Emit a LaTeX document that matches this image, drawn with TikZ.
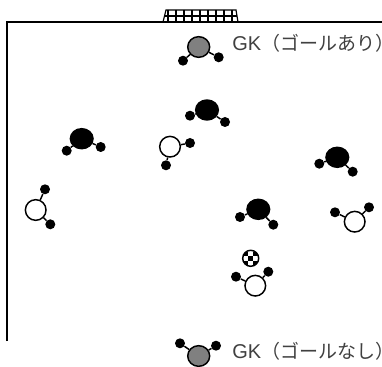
\documentclass[tikz,border=0pt]{standalone}
\usepackage{fontspec}
\setmainfont{Liberation Sans}
\newfontfamily\cjk[Scale=0.95]{Noto Sans CJK JP}
\usetikzlibrary{shapes.geometric}
\tikzset{
  player/.style={ellipse, draw=black, line width=1.1pt, inner sep=0pt, minimum width=15.5pt, minimum height=15.5pt},
  hand/.style={circle, fill=black, inner sep=0pt, minimum size=7.5pt},
  arm/.style={line width=1.1pt},
  label/.style={anchor=west, inner sep=0pt, font=\fontsize{15}{18}\selectfont, text=black!75}
}
\begin{document}
\begin{tikzpicture}[x=0.75pt,y=-0.75pt]
  \useasboundingbox (0,0) rectangle (382,367);
  % field
  \coordinate (fieldtl) at (7,22);
  \coordinate (fieldbl) at (7,341);
  \coordinate (fieldtr) at (382,22);
  \draw[line width=1pt] (fieldbl) -- (fieldtl) -- (fieldtr);
  % goal
  \begin{scope}
    \coordinate (goalbl) at (163,22);
    \coordinate (goaltl) at (166,10);
    \coordinate (goaltr) at (236,10);
    \coordinate (goalbr) at (238,22);
    \draw[line width=0.9pt] (goalbl) -- (goaltl) -- (goaltr) -- (goalbr);
    \foreach \i in {168,176,...,232} {
      \draw[line width=0.8pt] (\i,10) -- (\i,22);
    }
    \foreach \i in {16} {
      \draw[line width=0.8pt] (165,\i) -- (237,\i);
    }
  \end{scope}
  % black team
  \foreach \n/\x/\y/\a/\b/\c/\d in {1/81.7/138.7/66.7/150.7/100.7/147,
                                    2/207/110/190/115.7/225/122,
                                    3/337.3/157.3/319.3/163.7/352.7/171.7,
                                    4/258.3/209.3/240/217/273.3/224.7} {
    \node (b\n) at (\x,\y) [player, fill=black, minimum width=17pt, minimum height=15pt] {};
    \node (b\n l) at (\a,\b) [hand] {};
    \node (b\n r) at (\c,\d) [hand] {};
    \draw[arm] (b\n) -- (b\n l);
    \draw[arm] (b\n) -- (b\n r);
  }
  % white team
  \foreach \n/\x/\y/\a/\b/\c/\d in {1/170/146.7/166/165.3/190/143,
                                    2/35.7/210/45/189.3/50.3/224.3,
                                    3/354.7/221.7/335/212.3/369/207.3,
                                    4/255.3/285.7/236/276.7/268.3/271.7} {
    \node (w\n) at (\x,\y) [player, fill=white] {};
    \node (w\n l) at (\a,\b) [hand] {};
    \node (w\n r) at (\c,\d) [hand] {};
    \draw[arm] (w\n) -- (w\n l);
    \draw[arm] (w\n) -- (w\n r);
  }
  % keepers
  \foreach \n/\x/\y/\a/\b/\c/\d in {1/198.7/47/183/60.7/218.7/57.3,
                                    2/198.7/356/180/343.3/216/345.7} {
    \node (k\n) at (\x,\y) [player, fill=black!50, minimum width=16.5pt] {};
    \node (k\n l) at (\a,\b) [hand] {};
    \node (k\n r) at (\c,\d) [hand] {};
    \draw[arm] (k\n) -- (k\n l);
    \draw[arm] (k\n) -- (k\n r);
  }
  \node (k1text) at (232,43) [label] {GK{\cjk（ゴールあり）}};
  \node (k2text) at (232,351) [label] {GK{\cjk（ゴールなし）}};
  % ball
  \node (ball) at (250.7,258.3) [circle, draw=black, line width=1.1pt, inner sep=0pt, minimum size=12pt, path picture={
    \foreach \i/\j in {-1/-1, 1/-1, 0/0, -1/1, 1/1} {
      \fill[black] ([xshift=\i*3.4pt-1.7pt, yshift=\j*3.4pt-1.7pt]path picture bounding box.center) rectangle +(3.4pt,3.4pt);
    }
  }] {};
\end{tikzpicture}
\end{document}
